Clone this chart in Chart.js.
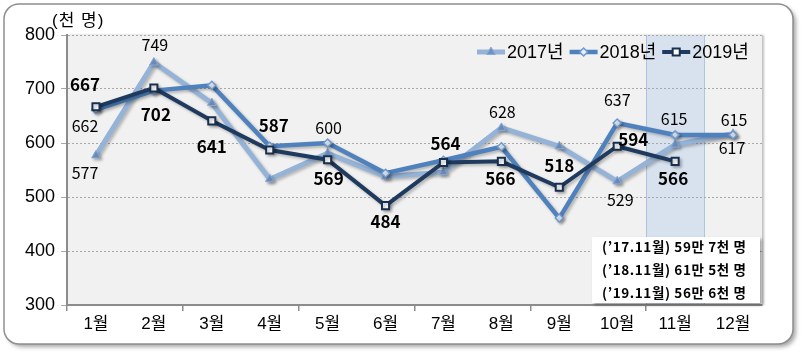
<!DOCTYPE html>
<html><head><meta charset="utf-8">
<script src="https://cdn.jsdelivr.net/npm/chart.js@4.4.1/dist/chart.umd.min.js"></script>
<style>html,body{margin:0;padding:0;background:#fff;}#wrap{width:803px;height:359px;position:relative;}</style>
</head><body><div id="wrap"><canvas id="c" width="803" height="359"></canvas></div>
<script>
// ---- data ----
const months = ['1월','2월','3월','4월','5월','6월','7월','8월','9월','10월','11월','12월'];
const seriesNames = ['2017년','2018년','2019년'];
const values2017 = [577, 749, 674, 533, 581, 538, 546, 628, 594, 529, 597, 617];
const values2018 = [662, 697, 707, 594, 600, 544, 568, 593, 461, 637, 615, 615];
const values2019 = [667, 702, 641, 587, 569, 484, 564, 566, 518, 594, 566, null];
const yMin = 300, yMax = 800, yStep = 100;
const unitLabel = '(천 명)';
const highlightMonth = '11월';
const noteLines = ['(’17.11월) 59만 7천 명', '(’18.11월) 61만 5천 명', '(’19.11월) 56만 6천 명'];

// ---- label placement (offsets from point, px) ----
const labelPos2017 = [[-11,18],[1,-18],null,null,null,null,null,[1,-16],null,[3,19],null,[-1,14]];
const labelPos2018 = [[-11,16],null,null,null,[1,-15],null,null,null,null,[0,-23],[-1,-16],[1,-15]];
const labelPos2019 = [[-11,-22],[2,27],[0,26],[4,-24],[1,19],[0,16],[2,-19],[-1,17],[0,-22],[16,-7],[-2,17],null];

const FONT = "'Liberation Sans','Noto Sans CJK KR',sans-serif";
const LFONT = "'Noto Sans CJK KR','Noto Sans',sans-serif";
const C17 = '#95b3d7', C18 = '#4f81bd', C19 = '#1f3a5f';

const bgPlugin = {
  id: 'bg',
  beforeDraw(chart) {
    const ctx = chart.ctx, a = chart.chartArea;
    ctx.save();
    ctx.shadowColor = 'rgba(0,0,0,0.35)';
    ctx.shadowBlur = 4; ctx.shadowOffsetX = 3; ctx.shadowOffsetY = 3;
    ctx.beginPath(); ctx.roundRect(4, 4, 789, 340, 15);
    ctx.fillStyle = '#fff'; ctx.fill();
    ctx.shadowColor = 'transparent';
    ctx.lineWidth = 1.5; ctx.strokeStyle = '#8f8f8f'; ctx.stroke();
    ctx.restore();
    ctx.save();
    ctx.shadowColor = 'rgba(0,0,0,0.25)'; ctx.shadowBlur = 2; ctx.shadowOffsetX = 2; ctx.shadowOffsetY = 0;
    ctx.fillStyle = '#f1f1f1';
    ctx.fillRect(a.left, a.top, a.right - a.left, a.bottom - a.top);
    ctx.restore();
    const xs = chart.scales.x;
    const idx = months.indexOf(highlightMonth);
    const cx = xs.getPixelForValue(idx);
    const half = (xs.getPixelForValue(1) - xs.getPixelForValue(0)) / 2;
    ctx.save();
    ctx.fillStyle = 'rgba(200,216,238,0.6)';
    ctx.fillRect(cx - half, a.top, 2 * half, a.bottom - a.top);
    ctx.strokeStyle = 'rgba(160,186,220,0.8)'; ctx.lineWidth = 1;
    ctx.beginPath();
    ctx.moveTo(Math.round(cx - half) + 0.5, a.top); ctx.lineTo(Math.round(cx - half) + 0.5, a.bottom);
    ctx.moveTo(Math.round(cx + half) + 0.5, a.top); ctx.lineTo(Math.round(cx + half) + 0.5, a.bottom);
    ctx.stroke();
    ctx.restore();
  }
};

const shadowPlugin = {
  id: 'lineShadow',
  beforeDatasetDraw(chart) {
    const ctx = chart.ctx; ctx.save();
    ctx.shadowColor = 'rgba(0,0,0,0.25)'; ctx.shadowBlur = 3; ctx.shadowOffsetX = 2; ctx.shadowOffsetY = 2;
  },
  afterDatasetDraw(chart) { chart.ctx.restore(); }
};

const labelPlugin = {
  id: 'vlabels',
  afterDatasetsDraw(chart) {
    const ctx = chart.ctx;
    chart.data.datasets.forEach((ds, di) => {
      const meta = chart.getDatasetMeta(di);
      meta.data.forEach((pt, i) => {
        const p = ds.labelPos[i], v = ds.data[i];
        if (!p || v == null) return;
        ctx.save();
        ctx.font = ds.labelFont; ctx.fillStyle = '#000';
        ctx.textAlign = 'center'; ctx.textBaseline = 'middle';
        ctx.fillText(String(v), pt.x + p[0], pt.y + p[1]);
        ctx.restore();
      });
    });
  }
};

function drawMarker(ctx, style, x, y, ds) {
  Chart.helpers.drawPoint(ctx, {pointStyle: style, radius: ds.pointRadius, rotation: 0, borderWidth: ds.pointBorderWidth}, x, y);
}

const overlayPlugin = {
  id: 'overlay',
  afterDraw(chart) {
    const ctx = chart.ctx;
    // unit label
    ctx.save();
    ctx.font = '17px ' + FONT; ctx.fillStyle = '#000'; ctx.textAlign = 'left'; ctx.textBaseline = 'middle';
    ctx.letterSpacing = '1px';
    ctx.fillText(unitLabel, 52, 21);
    ctx.restore();
    // legend
    ctx.save();
    let x = 477; const y = 52;
    ctx.font = '18px ' + FONT; ctx.textBaseline = 'middle'; ctx.textAlign = 'left';
    chart.data.datasets.forEach((ds) => {
      ctx.strokeStyle = ds.borderColor; ctx.lineWidth = ds.borderWidth;
      ctx.beginPath(); ctx.moveTo(x, y); ctx.lineTo(x + 28, y); ctx.stroke();
      ctx.fillStyle = ds.pointBackgroundColor; ctx.strokeStyle = ds.pointBorderColor; ctx.lineWidth = ds.pointBorderWidth;
      drawMarker(ctx, ds.pointStyle, x + 14, y, ds);
      ctx.fillStyle = '#000';
      ctx.fillText(ds.label, x + 30, y + 1);
      x += 30 + ctx.measureText(ds.label).width + 6;
    });
    ctx.restore();
    // note box
    ctx.save();
    ctx.shadowColor = 'rgba(0,0,0,0.35)'; ctx.shadowBlur = 3; ctx.shadowOffsetX = 2; ctx.shadowOffsetY = 2;
    ctx.fillStyle = '#fff';
    ctx.fillRect(592, 237, 168, 66);
    ctx.restore();
    ctx.save();
    ctx.font = 'bold 13.5px ' + LFONT; ctx.fillStyle = '#000'; ctx.textAlign = 'left'; ctx.textBaseline = 'middle';
    ctx.letterSpacing = '0.6px';
    const ys = [247, 270, 293];
    noteLines.forEach((t, i) => ctx.fillText(t, 602, ys[i]));
    ctx.restore();
  }
};

new Chart(document.getElementById('c'), {
  type: 'line',
  data: {
    labels: months,
    datasets: [
      { label: seriesNames[0], data: values2017, order: 3, borderColor: C17, borderWidth: 5,
        pointStyle: 'triangle', pointRadius: 5, pointBackgroundColor: '#6f92c6', pointBorderColor: '#8aaad3', pointBorderWidth: 1,
        labelPos: labelPos2017, labelFont: '16px ' + LFONT },
      { label: seriesNames[1], data: values2018, order: 2, borderColor: C18, borderWidth: 4.5,
        pointStyle: 'rectRot', pointRadius: 4, pointBackgroundColor: '#e6eef8', pointBorderColor: '#6f98cc', pointBorderWidth: 1.5,
        labelPos: labelPos2018, labelFont: '16px ' + LFONT },
      { label: seriesNames[2], data: values2019, order: 1, borderColor: C19, borderWidth: 4,
        pointStyle: 'rect', pointRadius: 5, pointBackgroundColor: '#ffffff', pointBorderColor: '#17304f', pointBorderWidth: 2,
        labelPos: labelPos2019, labelFont: 'bold 17px ' + LFONT }
    ]
  },
  options: {
    responsive: false, animation: false, devicePixelRatio: 1,
    layout: { padding: { top: 35, right: 41, left: 0, bottom: 0 } },
    plugins: { legend: { display: false }, tooltip: { enabled: false }, title: { display: false } },
    elements: { line: { tension: 0 } },
    scales: {
      x: {
        offset: true,
        grid: { offset: true, drawOnChartArea: false, drawTicks: true, tickLength: 6, lineWidth: 1.5,
          color: c => (c.index !== undefined && c.index % 2 === 0) ? '#8c8c8c' : 'rgba(0,0,0,0)' },
        border: { color: '#8c8c8c', width: 2 },
        ticks: { font: { size: 17, family: FONT }, color: '#000', padding: 3, maxRotation: 0, autoSkip: false },
        afterFit: s => { s.height = 54; }
      },
      y: {
        min: yMin, max: yMax,
        grid: { color: '#a8a8a8', lineWidth: 1, tickLength: 6, drawTicks: true },
        border: { color: '#8c8c8c', width: 2, dash: [2, 2] },
        ticks: { stepSize: yStep, font: { size: 18, family: FONT }, color: '#000', padding: 6 },
        afterFit: s => { s.width = 67; }
      }
    }
  },
  plugins: [bgPlugin, shadowPlugin, labelPlugin, overlayPlugin]
});
</script></body></html>
